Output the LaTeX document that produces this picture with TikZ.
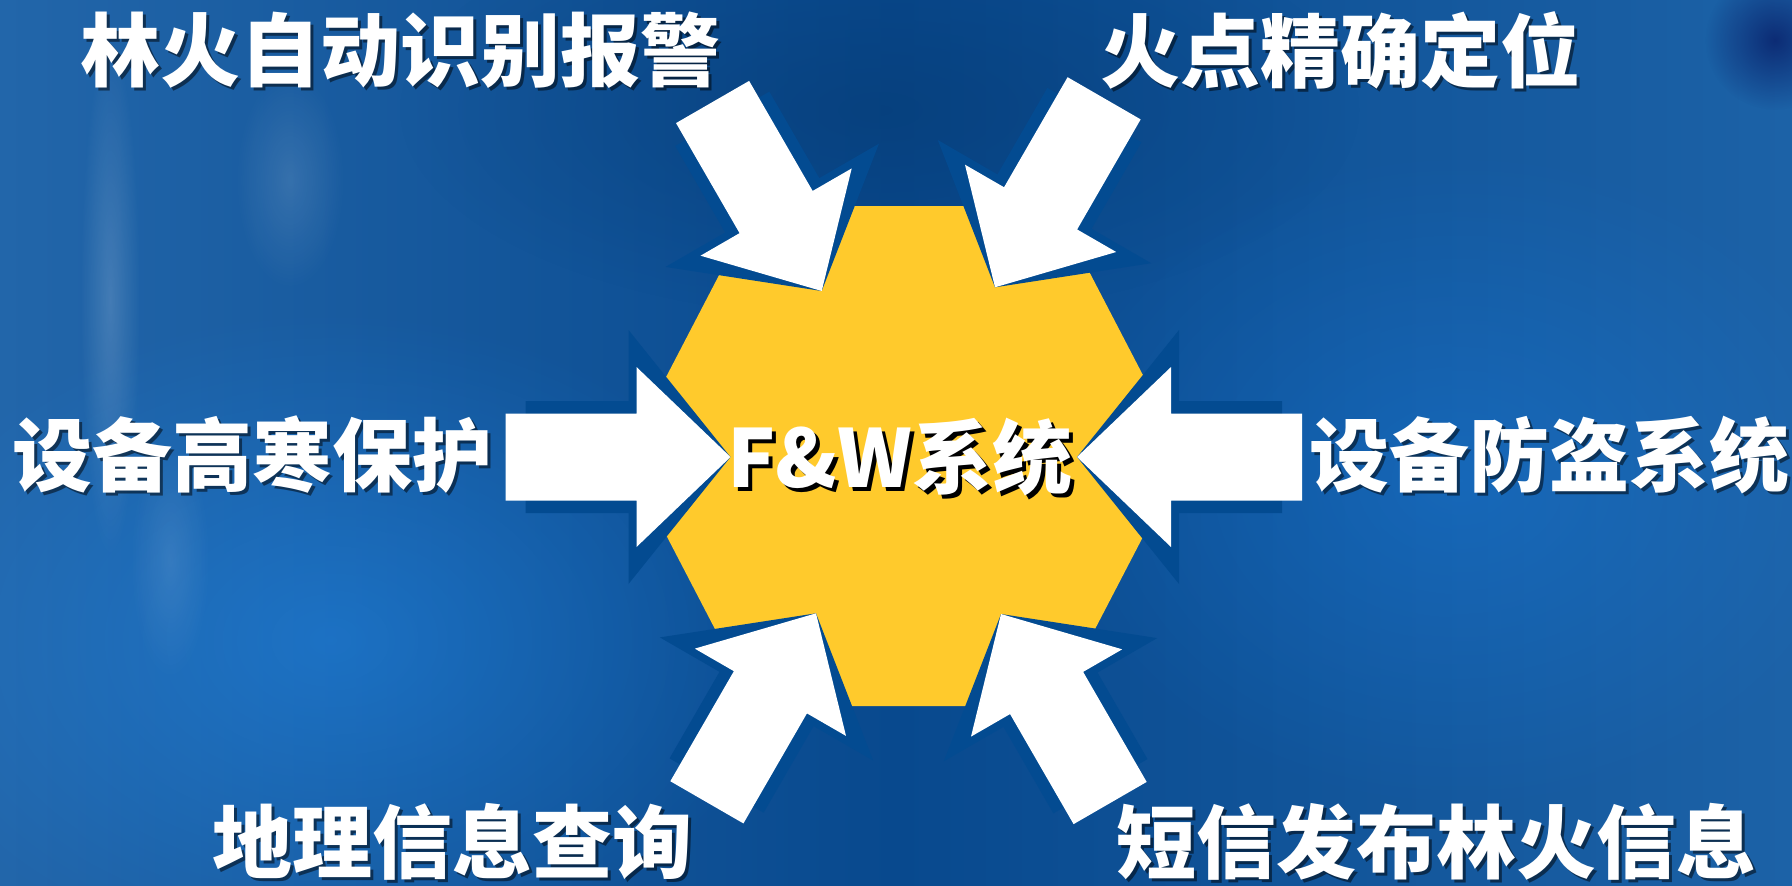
\documentclass[tikz,border=0pt]{standalone}
\usepackage{fontspec}
\newfontfamily\cjk{Noto Sans CJK SC}
\usetikzlibrary{fadings}
\tikzfading[name=softblob, inner color=transparent!0, outer color=transparent!100]
\definecolor{bgL}{HTML}{2266AA}
\definecolor{bgM}{HTML}{08498E}
\definecolor{bgR}{HTML}{1C62A7}
\definecolor{hexyellow}{HTML}{FFCA2C}
\definecolor{shadowblue}{HTML}{034B91}
\tikzset{
  lbl/.style={font=\cjk\bfseries\fontsize{40}{48}\selectfont, text=white, inner sep=0pt},
  lblshadow/.style={lbl, text=black, text opacity=0.5},
  arrowwhite/.style={fill=white},
  arrowshadow/.style={fill=shadowblue},
  blob/.style={path fading=softblob}
}
\newcommand\fwshadow[4]{%
  \begin{scope}[shift={(#1,#2)},rotate=#3,scale=#4]
    \fill[arrowshadow] (0,0) -- (102,127) -- (102,56) -- (205,56) -- (205,-56) -- (102,-56) -- (102,-127) -- cycle;
  \end{scope}}
\newcommand\fwwhite[4]{%
  \begin{scope}[shift={(#1,#2)},rotate=#3,scale=#4]
    \fill[arrowwhite] (0,0) -- (94,90) -- (94,43.5) -- (225,43.5) -- (225,-43.5) -- (94,-43.5) -- (94,-90) -- cycle;
  \end{scope}}
\begin{document}
\begin{tikzpicture}[x=0.5pt,y=-0.5pt]
\useasboundingbox (0,0) rectangle (1792,885);
% background
\shade[left color=bgL, right color=bgR, middle color=bgM] (0,0) rectangle (1792,885);
\fill[blob, color=white!25!blue!55!cyan, opacity=0.38] (330,640) ellipse [x radius=460, y radius=330];
\fill[blob, color=white!20!blue!55!cyan, opacity=0.28] (1460,480) ellipse [x radius=420, y radius=330];
\fill[blob, color=bgM!80!black, opacity=0.55] (880,110) ellipse [x radius=480, y radius=210];
\fill[blob, color=black!70!blue, opacity=0.55] (1775,40) ellipse [x radius=70, y radius=70];
\fill[blob, color=white, opacity=0.16] (110,300) ellipse [x radius=30, y radius=260];
\fill[blob, color=white, opacity=0.12] (290,180) ellipse [x radius=55, y radius=110];
\fill[blob, color=white, opacity=0.10] (170,560) ellipse [x radius=40, y radius=120];
% hexagon
\fill[hexyellow] (625,456) -- (755,206) -- (1055,206) -- (1185,456) -- (1055,706) -- (755,706) -- cycle;
% arrow shadows
\fwshadow{730.5}{457}{180}{1}
\fwshadow{1077}{457}{0}{1}
\fwshadow{821.7}{291}{120}{0.97}
\fwshadow{995}{287.3}{60}{0.97}
\fwshadow{816}{613.3}{240}{0.97}
\fwshadow{1001}{614}{300}{0.97}
% white arrows
\fwwhite{730.5}{457}{180}{1}
\fwwhite{1077}{457}{0}{1}
\fwwhite{821.7}{291}{120}{0.97}
\fwwhite{995}{287.3}{60}{0.97}
\fwwhite{816}{613.3}{240}{0.97}
\fwwhite{1001}{614}{300}{0.97}
% center text
\node[lbl, text=black] (fws) at (904,461) {F\&W系统};
\node[lbl] (fw) at (900,457) {F\&W系统};
% labels
\node[lblshadow] (t1s) at (403,53) {林火自动识别报警};
\node[lbl] (t1) at (400,50) {林火自动识别报警};
\node[lblshadow] (t2s) at (1343,53) {火点精确定位};
\node[lbl] (t2) at (1340,50) {火点精确定位};
\node[lblshadow] (t3s) at (255,458) {设备高寒保护};
\node[lbl] (t3) at (252,455) {设备高寒保护};
\node[lblshadow] (t4s) at (1552,458) {设备防盗系统};
\node[lbl] (t4) at (1549,455) {设备防盗系统};
\node[lblshadow] (t5s) at (455,845) {地理信息查询};
\node[lbl] (t5) at (452,842) {地理信息查询};
\node[lblshadow] (t6s) at (1439,845) {短信发布林火信息};
\node[lbl] (t6) at (1436,842) {短信发布林火信息};
\end{tikzpicture}
\end{document}
